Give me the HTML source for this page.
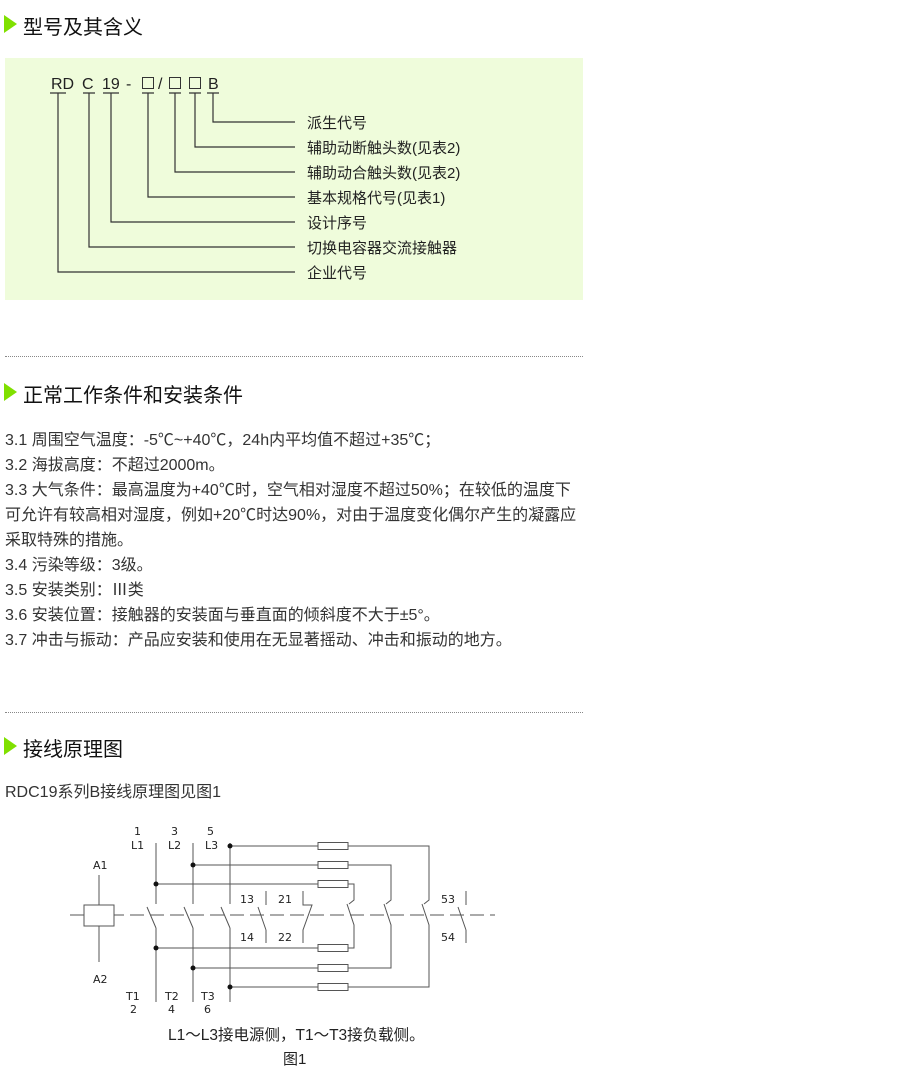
<!DOCTYPE html>
<html><head><meta charset="utf-8"><style>
body{margin:0;width:900px;height:1080px;background:#fff;font-family:"Liberation Sans","Noto Sans CJK SC",sans-serif;color:#222;position:relative;overflow:hidden}
.a{position:absolute;white-space:nowrap}
.tri{position:absolute;width:0;height:0;border-top:9px solid transparent;border-bottom:9px solid transparent;border-left:13px solid #80e000}
.h{font-size:20px;color:#111}
.t{font-size:16px;color:#333}
.dot{position:absolute;left:5px;width:578px;border-top:1px dotted #888}
</style></head><body>
<div class="tri" style="left:4px;top:15px"></div><div class="a h" style="left:23px;top:11px">型号及其含义</div>
<div class="a" style="left:5px;top:58px;width:578px;height:242px;background:#effcdb"></div>
<svg class="a" style="left:0;top:0" width="600" height="310">
<g font-family="Liberation Sans" font-size="16" fill="#222">
<text x="51" y="89">RD</text><text x="82" y="89">C</text><text x="102" y="89">19</text><text x="126" y="89">-</text>
<rect x="142.5" y="77.5" width="11" height="11" fill="none" stroke="#333"/>
<text x="158" y="89">/</text>
<rect x="169.5" y="77.5" width="11" height="11" fill="none" stroke="#333"/>
<rect x="189.5" y="77.5" width="11" height="11" fill="none" stroke="#333"/>
<text x="208" y="89">B</text></g>
<g stroke="#333" stroke-width="1.2" fill="none">
<path d="M50 93H66M58 93V272H295"/><path d="M83 93H95M89 93V247H295"/><path d="M103 93H119M111 93V222H295"/>
<path d="M142 93H154M148 93V197H295"/><path d="M169 93H181M175 93V172H295"/><path d="M189 93H201M195 93V147H295"/><path d="M207 93H219M213 93V122H295"/>
</g>
<g font-family="Liberation Sans,Noto Sans CJK SC" font-size="15" fill="#222">
<text x="307" y="128">派生代号</text><text x="307" y="153">辅助动断触头数(见表2)</text><text x="307" y="178">辅助动合触头数(见表2)</text>
<text x="307" y="203">基本规格代号(见表1)</text><text x="307" y="228">设计序号</text><text x="307" y="253">切换电容器交流接触器</text><text x="307" y="278">企业代号</text>
</g></svg>
<div class="dot" style="top:356px"></div>
<div class="tri" style="left:4px;top:383px"></div><div class="a h" style="left:23px;top:379px">正常工作条件和安装条件</div>
<div class="a t" style="left:5px;top:428px;line-height:25px">3.1 周围空气温度：-5℃~+40℃，24h内平均值不超过+35℃；<br>3.2 海拔高度：不超过2000m。<br>3.3 大气条件：最高温度为+40℃时，空气相对湿度不超过50%；在较低的温度下<br>可允许有较高相对湿度，例如+20℃时达90%，对由于温度变化偶尔产生的凝露应<br>采取特殊的措施。<br>3.4 污染等级：3级。<br>3.5 安装类别：Ⅲ类<br>3.6 安装位置：接触器的安装面与垂直面的倾斜度不大于±5°。<br>3.7 冲击与振动：产品应安装和使用在无显著摇动、冲击和振动的地方。</div>
<div class="dot" style="top:712px"></div>
<div class="tri" style="left:4px;top:737px"></div><div class="a h" style="left:23px;top:733px">接线原理图</div>
<div class="a t" style="left:5px;top:778px">RDC19系列B接线原理图见图1</div>
<svg class="a" style="left:0;top:815px" width="520" height="200" viewBox="0 815 520 200">
<g stroke="#555" stroke-width="1" fill="none">
<path d="M70 915H495" stroke-dasharray="14 6"/>
<rect x="84" y="905" width="30" height="21" fill="#fff"/>
<path d="M99 875V905M99 926V962"/>
<path d="M156 843V904M156 928V1002M147 907L156 928"/>
<path d="M193 843V904M193 928V1002M184 907L193 928"/>
<path d="M230 843V904M230 928V1002M221 907L230 928"/>
<path d="M266 891V905M266 930V943M258 907L266 930"/>
<path d="M303 891V905H312L303 930V943"/>
<path d="M466 891V905M466 930V943M458 907L466 930"/>
<path d="M230 846H318M348 846H429V900L424 904M422 904L429 925V987H348M318 987H230"/>
<path d="M193 865H318M348 865H391V900L386 904M384 904L391 925V968H348M318 968H193"/>
<path d="M156 884H318M348 884H354V900L349 904M347 904L354 925V948H348M318 948H156"/>
<g fill="#fff"><rect x="318" y="842.5" width="30" height="7"/><rect x="318" y="861.5" width="30" height="7"/><rect x="318" y="880.5" width="30" height="7"/><rect x="318" y="944.5" width="30" height="7"/><rect x="318" y="964.5" width="30" height="7"/><rect x="318" y="983.5" width="30" height="7"/></g>
</g>
<g fill="#111"><circle cx="230" cy="846" r="2.5"/><circle cx="193" cy="865" r="2.5"/><circle cx="156" cy="884" r="2.5"/><circle cx="156" cy="948" r="2.5"/><circle cx="193" cy="968" r="2.5"/><circle cx="230" cy="987" r="2.5"/></g>
<g font-family="DejaVu Sans" font-size="11" fill="#222">
<text x="134" y="835">1</text><text x="131" y="849">L1</text><text x="171" y="835">3</text><text x="168" y="849">L2</text><text x="207" y="835">5</text><text x="205" y="849">L3</text>
<text x="93" y="869">A1</text><text x="93" y="983">A2</text>
<text x="240" y="903">13</text><text x="278" y="903">21</text><text x="240" y="941">14</text><text x="278" y="941">22</text>
<text x="441" y="903">53</text><text x="441" y="941">54</text>
<text x="126" y="1000">T1</text><text x="130" y="1013">2</text><text x="165" y="1000">T2</text><text x="168" y="1013">4</text><text x="201" y="1000">T3</text><text x="204" y="1013">6</text>
</g></svg>
<div class="a" style="left:168px;top:1023px;font-size:15.5px">L1～L3接电源侧，T1～T3接负载侧。</div>
<div class="a" style="left:283px;top:1048px;font-size:15px">图1</div>
</body></html>
